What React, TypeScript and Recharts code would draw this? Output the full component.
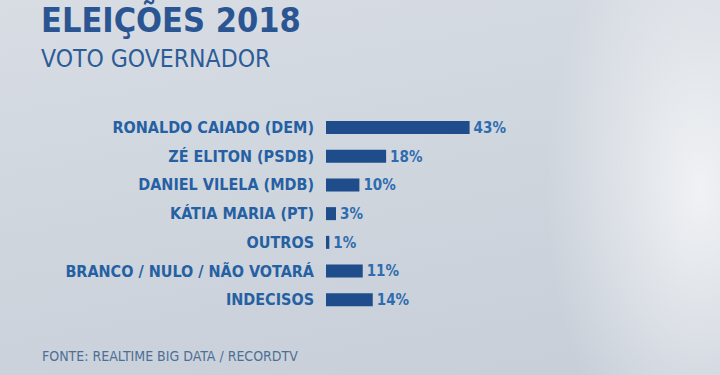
// Eleições 2018 — voto governador (Goiás), horizontal bar chart in the RecordTV style.
import { Bar, BarChart, LabelList, XAxis, YAxis } from "recharts";

const CANDIDATOS = [
  "RONALDO CAIADO (DEM)",
  "ZÉ ELITON (PSDB)",
  "DANIEL VILELA (MDB)",
  "KÁTIA MARIA (PT)",
  "OUTROS",
  "BRANCO / NULO / NÃO VOTARÁ",
  "INDECISOS",
];
const VOTOS = [43, 18, 10, 3, 1, 11, 14];

const FONT = "'DejaVu Sans Condensed', 'DejaVu Sans', sans-serif";
const BAR = "#1f4d8c";
const LABEL = "#2560a3";

const data = CANDIDATOS.map((nome, i) => ({ nome, voto: VOTOS[i] }));

export default function App() {
  return (
    <div
      style={{
        position: "fixed",
        left: 0,
        top: 0,
        width: 720,
        height: 375,
        overflow: "hidden",
        fontFamily: FONT,
        background:
          "radial-gradient(ellipse 220px 420px at 700px 190px, rgba(255,255,255,0.7), rgba(255,255,255,0) 70%)," +
          "linear-gradient(170deg, #d8dde4 0%, #d0d6de 45%, #c7ced8 100%)",
      }}
    >
      <div
        style={{
          position: "absolute",
          left: 41,
          top: 1,
          fontSize: 34,
          lineHeight: "38px",
          fontWeight: 700,
          color: "#2b5592",
          whiteSpace: "nowrap",
        }}
      >
        ELEIÇÕES 2018
      </div>
      <div
        style={{
          position: "absolute",
          left: 41,
          top: 44,
          fontSize: 24.5,
          color: "#2c5c98",
          whiteSpace: "nowrap",
        }}
      >
        VOTO GOVERNADOR
      </div>
      <div
        style={{
          position: "absolute",
          left: 42,
          top: 348,
          fontSize: 14,
          color: "#4d6f96",
          whiteSpace: "nowrap",
        }}
      >
        FONTE: REALTIME BIG DATA / RECORDTV
      </div>
      <BarChart
        layout="vertical"
        width={720}
        height={375}
        data={data}
        margin={{ top: 113, right: 227, bottom: 61, left: 0 }}
        barSize={13}
        style={{ position: "absolute", left: 0, top: 0 }}
      >
        <XAxis type="number" domain={[0, 50]} hide />
        <YAxis
          type="category"
          dataKey="nome"
          width={326}
          axisLine={false}
          tickLine={false}
          tickMargin={6}
          interval={0}
          tick={{ fill: LABEL, fontSize: 16, fontWeight: 700, fontFamily: FONT }}
        />
        <Bar dataKey="voto" fill={BAR} isAnimationActive={false}>
          <LabelList
            dataKey="voto"
            position="right"
            offset={4}
            formatter={(v: number) => `${v}%`}
            style={{ fill: "#2e6cb0", fontSize: 15, fontWeight: 700, fontFamily: FONT }}
          />
        </Bar>
      </BarChart>
    </div>
  );
}
